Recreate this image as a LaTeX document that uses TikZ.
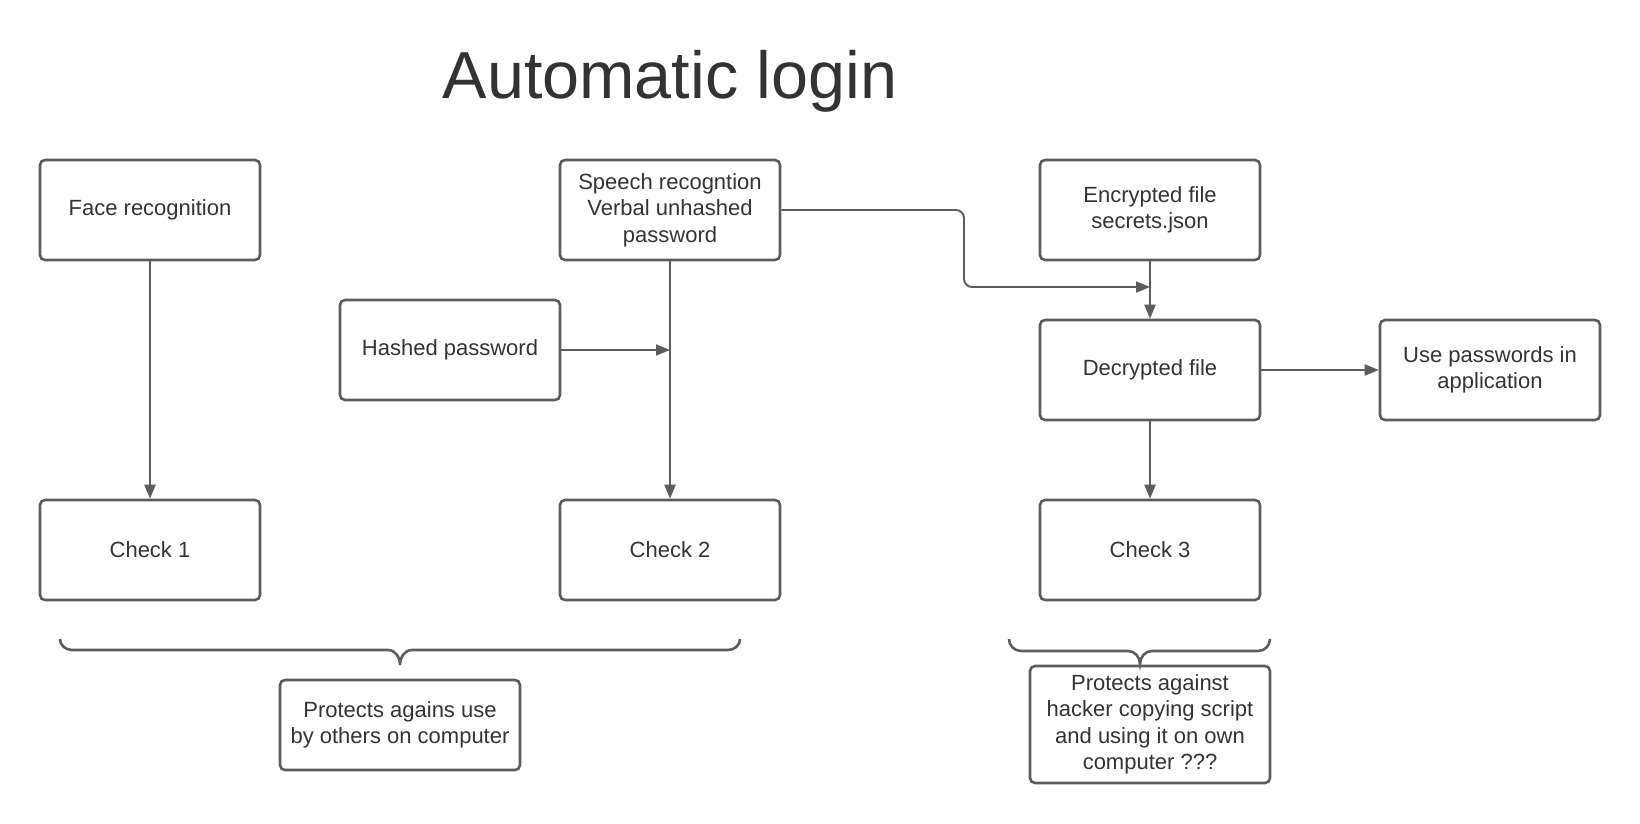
\documentclass[tikz,border=0pt]{standalone}
\usepackage{fontspec}
\setmainfont{Liberation Sans}
\usetikzlibrary{arrows.meta}
\definecolor{linegray}{HTML}{5C5C5C}
\definecolor{txt}{HTML}{333333}
\begin{document}
\begin{tikzpicture}[x=1pt,y=-1pt,
  box/.style={draw=linegray, line width=2.6pt, rounded corners=5pt, minimum width=220pt, minimum height=100pt, align=center, text=txt, font=\fontsize{22}{26.5}\selectfont, inner sep=0pt},
  conn/.style={draw=linegray, line width=1.9pt, -{Triangle[length=14pt,width=11pt]}},
  bracestyle/.style={draw=linegray, line width=2.6pt}
]
\useasboundingbox (0,0) rectangle (1640,823);
\node[anchor=base, text=txt, font=\fontsize{66.5}{80}\selectfont] (title) at (670,98) {Automatic login};

\node[box] (face) at (150,210) {Face recognition};
\node[box] (speech) at (670,210) {Speech recogntion\\Verbal unhashed\\password};
\node[box] (hashed) at (450,350) {Hashed password};
\node[box] (enc) at (1150,210) {Encrypted file\\secrets.json};
\node[box] (dec) at (1150,370) {Decrypted file};
\node[box] (use) at (1490,370) {Use passwords in\\application};
\node[box] (c1) at (150,550) {Check 1};
\node[box] (c2) at (670,550) {Check 2};
\node[box] (c3) at (1150,550) {Check 3};
\node[box, minimum width=240pt, minimum height=90pt] (p1) at (400,725) {Protects agains use\\by others on computer};
\node[box, minimum width=240pt, minimum height=117pt] (p2) at (1150,724.5) {Protects against\\hacker copying script\\and using it on own\\computer ???};

\coordinate (hj) at (c2.north |- hashed.east);
\coordinate (bend1) at (964,210);
\coordinate (bend2) at (964,287);
\coordinate (ej) at (enc.south |- bend2);

\draw[conn] (face.south) -- (c1.north);
\draw[conn] (speech.south) -- (c2.north);
\draw[conn] (hashed.east) -- (hj);
\draw[conn, rounded corners=8pt] (speech.east) -- (bend1) -- (bend2) -- (ej);
\draw[conn] (enc.south) -- (dec.north);
\draw[conn] (dec.east) -- (use.west);
\draw[conn] (dec.south) -- (c3.north);

% braces
\draw[bracestyle] (60,639) to[out=-90,in=180] (72,650) -- (388,650) to[out=0,in=90] (400,665) to[out=90,in=180] (412,650) -- (728,650) to[out=0,in=-90] (740,639);
\draw[bracestyle] (1009,639) to[out=-90,in=180] (1021,651) -- (1128,651) to[out=0,in=90] (1140,664) to[out=90,in=180] (1152,651) -- (1258,651) to[out=0,in=-90] (1270,639);
\end{tikzpicture}
\end{document}
